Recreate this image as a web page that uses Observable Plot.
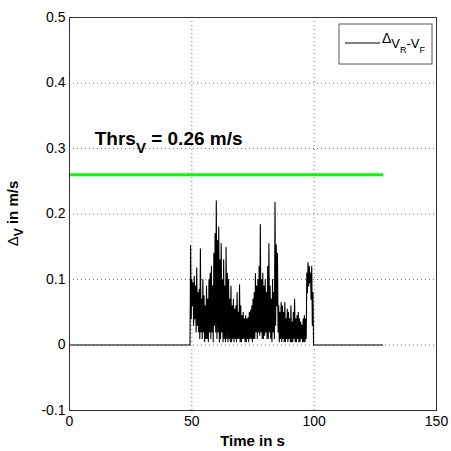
<!DOCTYPE html>
<html>
<head>
<meta charset="utf-8">
<script src="https://cdn.jsdelivr.net/npm/d3@7"></script>
<script src="https://cdn.jsdelivr.net/npm/@observablehq/plot@0.6"></script>
<style>
  html, body { margin: 0; padding: 0; background: #fff; }
  #chart { width: 451px; height: 451px; }
</style>
</head>
<body>
<div id="chart"></div>
<script>
// ---- data ----
const xTicks = [0, 50, 100, 150];
const yTicks = [-0.1, 0, 0.1, 0.2, 0.3, 0.4, 0.5];
const yTickLabels = ["-0.1", "0", "0.1", "0.2", "0.3", "0.4", "0.5"];
const xGrid = [50, 100];
const yGrid = [0, 0.1, 0.2, 0.3, 0.4];

// quiet parts of the signal (value 0)
const quietTimes = [0, 49, 100, 128];
const quietValues = [0, 0, 0, 0];

// active part: samples every 0.25 s from 49 s to 100 s
const activeStart = 49;
const activeStep = 0.25;
const activeValues = [
  0.00, 0.00, 0.152, 0.04,   // 49
  0.10, 0.06, 0.095, 0.03,   // 50
  0.105, 0.04, 0.09, 0.02,   // 51
  0.118, 0.03, 0.08, 0.02,   // 52
  0.085, 0.01, 0.147, 0.02,  // 53
  0.07, 0.01, 0.10, 0.02,    // 54
  0.075, 0.005, 0.06, 0.01,  // 55
  0.09, 0.01, 0.07, 0.005,   // 56
  0.10, 0.02, 0.11, 0.01,    // 57
  0.12, 0.02, 0.09, 0.005,   // 58
  0.14, 0.03, 0.17, 0.02,    // 59
  0.22, 0.01, 0.16, 0.02,    // 60
  0.18, 0.005, 0.13, 0.01,   // 61
  0.155, 0.02, 0.10, 0.005,  // 62
  0.13, 0.01, 0.09, 0.005,   // 63
  0.149, 0.01, 0.11, 0.005,  // 64
  0.10, 0.01, 0.07, 0.005,   // 65
  0.09, 0.005, 0.06, 0.01,   // 66
  0.07, 0.005, 0.055, 0.01,  // 67
  0.06, 0.005, 0.08, 0.01,   // 68
  0.05, 0.01, 0.092, 0.005,  // 69
  0.06, 0.005, 0.045, 0.01,  // 70
  0.05, 0.01, 0.04, 0.005,   // 71
  0.045, 0.005, 0.04, 0.01,  // 72
  0.042, 0.005, 0.05, 0.01,  // 73
  0.053, 0.01, 0.06, 0.005,  // 74
  0.07, 0.01, 0.08, 0.01,    // 75
  0.109, 0.02, 0.09, 0.01,   // 76
  0.10, 0.02, 0.12, 0.015,   // 77
  0.184, 0.02, 0.10, 0.01,   // 78
  0.11, 0.01, 0.09, 0.015,   // 79
  0.10, 0.02, 0.08, 0.01,    // 80
  0.12, 0.01, 0.155, 0.02,   // 81
  0.09, 0.01, 0.07, 0.005,   // 82
  0.10, 0.02, 0.08, 0.01,    // 83
  0.218, 0.03, 0.153, 0.06,  // 84
  0.14, 0.02, 0.06, 0.005,   // 85
  0.05, 0.01, 0.065, 0.005,  // 86
  0.06, 0.01, 0.05, 0.005,   // 87
  0.065, 0.005, 0.04, 0.01,  // 88
  0.055, 0.005, 0.05, 0.01,  // 89
  0.04, 0.005, 0.06, 0.005,  // 90
  0.035, 0.005, 0.05, 0.01,  // 91
  0.07, 0.005, 0.04, 0.005,  // 92
  0.045, 0.01, 0.05, 0.005,  // 93
  0.04, 0.005, 0.035, 0.01,  // 94
  0.03, 0.005, 0.04, 0.005,  // 95
  0.045, 0.005, 0.04, 0.01,  // 96
  0.11, 0.08, 0.126, 0.09,   // 97
  0.12, 0.095, 0.11, 0.07,   // 98
  0.12, 0.03, 0.08, 0.00,    // 99
  0.00                       // 100
];

const threshold = 0.26;
const thresholdSpan = [0, 128.5];
const thresholdLabelAt = [10.5, 0.304];

// ---- build the series ----
const series = [];
series.push({t: quietTimes[0], v: quietValues[0]});
series.push({t: quietTimes[1], v: quietValues[1]});
activeValues.forEach((v, i) => series.push({t: activeStart + i * activeStep, v}));
series.push({t: quietTimes[2], v: quietValues[2]});
series.push({t: quietTimes[3], v: quietValues[3]});

const font = "'Liberation Sans', Arial, Helvetica, sans-serif";

const plot = Plot.plot({
  width: 451,
  height: 451,
  marginLeft: 69,
  marginRight: 15,
  marginTop: 17,
  marginBottom: 41,
  style: {fontFamily: font, fontSize: "14px", color: "#000", background: "#fff"},
  x: {domain: [0, 150]},
  y: {domain: [-0.1, 0.5]},
  marks: [
    Plot.ruleX(xGrid, {stroke: "#777", strokeWidth: 1, strokeDasharray: "1,3"}),
    Plot.ruleY(yGrid, {stroke: "#777", strokeWidth: 1, strokeDasharray: "1,3"}),
    Plot.ruleY([threshold], {x1: thresholdSpan[0], x2: thresholdSpan[1], stroke: "#00ff00", strokeWidth: 3}),
    Plot.line(series, {x: "t", y: "v", stroke: "#000", strokeWidth: 1.1}),
    Plot.frame({stroke: "#333", strokeWidth: 1}),
    Plot.axisX({ticks: xTicks, tickSize: 0, tickPadding: 6, label: null, tickFormat: d => String(d)}),
    Plot.axisY({ticks: yTicks, tickSize: 0, tickPadding: 4, label: null,
      tickFormat: d => yTickLabels[yTicks.findIndex(t => Math.abs(t - d) < 1e-9)]})
  ]
});

document.getElementById("chart").appendChild(plot);

const svg = d3.select(plot);
const xs = plot.scale("x");
const ys = plot.scale("y");

// threshold annotation
const ann = svg.append("text")
  .attr("x", xs.apply(thresholdLabelAt[0]))
  .attr("y", ys.apply(thresholdLabelAt[1]))
  .attr("text-anchor", "start")
  .attr("font-family", font)
  .attr("font-weight", "bold")
  .attr("font-size", 19)
  .attr("fill", "#000");
ann.append("tspan").text("Thrs");
ann.append("tspan").attr("dy", 8).attr("font-size", 15).text("V");
ann.append("tspan").attr("dy", -8).text(" = 0.26 m/s");

// x label
svg.append("text")
  .attr("x", (xs.apply(0) + xs.apply(150)) / 2)
  .attr("y", 446)
  .attr("text-anchor", "middle")
  .attr("font-family", font)
  .attr("font-weight", "bold")
  .attr("font-size", 15)
  .attr("fill", "#000")
  .text("Time in s");

// y label
const yMid = (ys.apply(-0.1) + ys.apply(0.5)) / 2;
const yl = svg.append("text")
  .attr("transform", `translate(18,${yMid}) rotate(-90)`)
  .attr("text-anchor", "middle")
  .attr("font-family", font)
  .attr("font-weight", "bold")
  .attr("font-size", 15)
  .attr("fill", "#000");
yl.append("tspan").attr("font-weight", "normal").text("Δ");
yl.append("tspan").attr("dy", 5).attr("font-size", 12).text("V");
yl.append("tspan").attr("dy", -5).text(" in m/s");

// legend box (top right, inside axes)
const axRight = xs.apply(150);
const axTop = ys.apply(0.5);
const lg = svg.append("g");
lg.append("rect")
  .attr("x", axRight - 97).attr("y", axTop + 7)
  .attr("width", 93).attr("height", 40)
  .attr("fill", "#fff").attr("stroke", "#555").attr("stroke-width", 1);
lg.append("line")
  .attr("x1", axRight - 91).attr("x2", axRight - 56)
  .attr("y1", axTop + 26).attr("y2", axTop + 26)
  .attr("stroke", "#000").attr("stroke-width", 1);
const lt = lg.append("text")
  .attr("x", axRight - 54).attr("y", axTop + 26)
  .attr("text-anchor", "start")
  .attr("font-family", font).attr("font-size", 14).attr("fill", "#000");
lt.append("tspan").text("Δ");
lt.append("tspan").attr("dy", 5).attr("font-size", 13).text("V");
lt.append("tspan").attr("dy", 5).attr("font-size", 9).text("R");
lt.append("tspan").attr("dy", -5).attr("font-size", 13).text("-V");
lt.append("tspan").attr("dy", 5).attr("font-size", 9).text("F");
</script>
</body>
</html>
